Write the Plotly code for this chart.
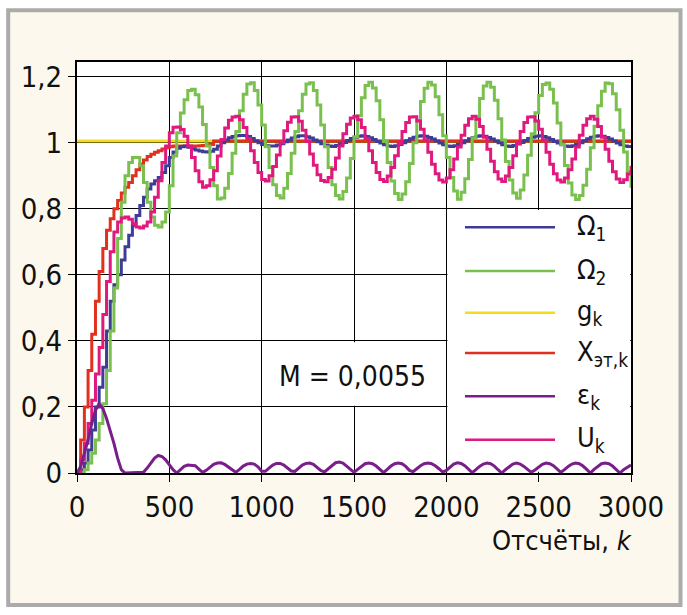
import plotly.graph_objects as go

# ---------------- data ----------------
k = list(range(0, 3001, 20))

omega1 = [0.0, 0.01, 0.03, 0.07, 0.13, 0.2, 0.26, 0.32, 0.43, 0.52,
          0.57, 0.6, 0.645, 0.685, 0.72, 0.75, 0.78, 0.81, 0.835, 0.86,
          0.875, 0.885, 0.895, 0.91, 0.93, 0.955, 0.972, 0.983, 0.988, 0.99,
          0.986, 0.982, 0.978, 0.975, 0.973, 0.972, 0.974, 0.98, 0.99, 1.0,
          1.008, 1.015, 1.019, 1.021, 1.022, 1.022, 1.019, 1.013, 1.006, 1.0,
          0.995, 0.991, 0.99, 0.99, 0.993, 0.997, 1.003, 1.008, 1.014, 1.018,
          1.021, 1.021, 1.018, 1.014, 1.008, 1.003, 0.997, 0.993, 0.99, 0.989,
          0.992, 0.996, 1.001, 1.007, 1.013, 1.017, 1.02, 1.021, 1.019, 1.015,
          1.01, 1.004, 0.999, 0.994, 0.99, 0.989, 0.991, 0.995, 1.0, 1.006,
          1.012, 1.017, 1.02, 1.021, 1.02, 1.016, 1.011, 1.005, 0.999, 0.994,
          0.99, 0.989, 0.991, 0.995, 1.0, 1.006, 1.012, 1.016, 1.02, 1.021,
          1.02, 1.016, 1.011, 1.005, 1.0, 0.994, 0.99, 0.989, 0.992, 0.996,
          1.001, 1.007, 1.013, 1.017, 1.02, 1.021, 1.019, 1.015, 1.01, 1.004,
          0.999, 0.994, 0.99, 0.989, 0.991, 0.995, 1.0, 1.006, 1.012, 1.017,
          1.02, 1.021, 1.02, 1.016, 1.011, 1.005, 0.999, 0.994, 0.99, 0.989,
          0.99]

omega2 = [0.0, 0.0, 0.01, 0.03, 0.06, 0.1, 0.15, 0.21, 0.31, 0.43,
          0.56, 0.71, 0.82, 0.9, 0.94, 0.955, 0.955, 0.93, 0.88, 0.82,
          0.775, 0.75, 0.745, 0.76, 0.79, 0.87, 0.96, 1.03, 1.09, 1.13,
          1.158, 1.162, 1.145, 1.108, 1.055, 0.99, 0.925, 0.87, 0.83, 0.833,
          0.862, 0.907, 0.968, 1.034, 1.097, 1.147, 1.178, 1.182, 1.158, 1.114,
          1.054, 0.988, 0.925, 0.873, 0.84, 0.833, 0.862, 0.907, 0.968, 1.034,
          1.097, 1.147, 1.178, 1.182, 1.158, 1.114, 1.054, 0.988, 0.925, 0.873,
          0.84, 0.83, 0.852, 0.893, 0.952, 1.018, 1.082, 1.136, 1.173, 1.183,
          1.166, 1.127, 1.07, 1.004, 0.94, 0.884, 0.846, 0.828, 0.845, 0.882,
          0.937, 1.0, 1.067, 1.125, 1.165, 1.183, 1.175, 1.139, 1.085, 1.021,
          0.955, 0.895, 0.854, 0.829, 0.85, 0.891, 0.949, 1.015, 1.079, 1.134,
          1.172, 1.183, 1.168, 1.129, 1.073, 1.008, 0.943, 0.887, 0.848, 0.832,
          0.857, 0.902, 0.962, 1.027, 1.091, 1.143, 1.176, 1.181, 1.162, 1.12,
          1.06, 0.995, 0.931, 0.878, 0.842, 0.828, 0.84, 0.871, 0.92, 0.985,
          1.05, 1.112, 1.156, 1.181, 1.179, 1.148, 1.1, 1.038, 0.972, 0.913,
          0.864]

u_k = [0.0, 0.04, 0.09, 0.15, 0.22, 0.3, 0.38, 0.48, 0.58, 0.67,
       0.73, 0.76, 0.772, 0.775, 0.768, 0.755, 0.745, 0.742, 0.748, 0.76,
       0.79, 0.835, 0.885, 0.94, 0.99, 1.03, 1.047, 1.048, 1.04, 1.02,
       0.99, 0.955, 0.915, 0.882, 0.865, 0.87, 0.888, 0.915, 0.96, 1.01,
       1.045, 1.068, 1.078, 1.08, 1.07, 1.046, 1.013, 0.976, 0.94, 0.91,
       0.889, 0.884, 0.9, 0.928, 0.963, 1.0, 1.036, 1.062, 1.078, 1.079,
       1.065, 1.038, 1.004, 0.966, 0.932, 0.903, 0.886, 0.882, 0.895, 0.92,
       0.954, 0.99, 1.027, 1.056, 1.075, 1.08, 1.07, 1.046, 1.013, 0.976,
       0.94, 0.91, 0.889, 0.883, 0.899, 0.925, 0.961, 0.998, 1.034, 1.061,
       1.078, 1.079, 1.066, 1.041, 1.008, 0.971, 0.935, 0.906, 0.887, 0.881,
       0.893, 0.918, 0.951, 0.987, 1.023, 1.053, 1.073, 1.08, 1.071, 1.049,
       1.017, 0.98, 0.944, 0.912, 0.89, 0.883, 0.899, 0.925, 0.961, 0.998,
       1.034, 1.061, 1.078, 1.079, 1.066, 1.041, 1.008, 0.971, 0.935, 0.906,
       0.887, 0.881, 0.893, 0.918, 0.951, 0.987, 1.023, 1.053, 1.073, 1.08,
       1.071, 1.049, 1.017, 0.98, 0.944, 0.912, 0.89, 0.88, 0.888, 0.905,
       0.93]

eps_k = [0.0, 0.02, 0.06, 0.1, 0.15, 0.19, 0.21, 0.195, 0.165, 0.13,
         0.09, 0.045, 0.01, 0.0, 0.0, 0.0, 0.0, 0.0, 0.002, 0.015,
         0.03, 0.045, 0.053, 0.05, 0.04, 0.025, 0.01, 0.0, 0.01, 0.02,
         0.024, 0.024, 0.022, 0.012, 0.002, 0.008, 0.018, 0.026, 0.03, 0.031,
         0.026, 0.018, 0.008, 0.002, 0.011, 0.021, 0.027, 0.029, 0.027, 0.019,
         0.005, 0.005, 0.015, 0.024, 0.029, 0.029, 0.024, 0.016, 0.006, 0.005,
         0.015, 0.024, 0.029, 0.03, 0.026, 0.018, 0.008, 0.003, 0.013, 0.024,
         0.031, 0.033, 0.03, 0.021, 0.01, 0.002, 0.011, 0.021, 0.028, 0.03,
         0.028, 0.021, 0.011, 0.001, 0.011, 0.021, 0.028, 0.03, 0.028, 0.02,
         0.008, 0.004, 0.013, 0.022, 0.028, 0.03, 0.028, 0.022, 0.013, 0.003,
         0.008, 0.019, 0.027, 0.031, 0.029, 0.022, 0.012, 0.001, 0.01, 0.02,
         0.027, 0.03, 0.028, 0.021, 0.01, 0.0, 0.01, 0.02, 0.027, 0.03,
         0.027, 0.02, 0.01, 0.002, 0.009, 0.019, 0.026, 0.03, 0.028, 0.022,
         0.012, 0.002, 0.01, 0.02, 0.027, 0.03, 0.028, 0.021, 0.011, 0.0,
         0.011, 0.021, 0.028, 0.03, 0.028, 0.021, 0.011, 0.0, 0.01, 0.018,
         0.024]

k_ref = list(range(0, 741, 20)) + [3000]
x_ref = [0.0, 0.1, 0.2, 0.31, 0.42, 0.52, 0.61, 0.68, 0.735, 0.77,
         0.8, 0.825, 0.848, 0.865, 0.88, 0.9, 0.918, 0.935, 0.948, 0.958,
         0.965, 0.971, 0.976, 0.981, 0.985, 0.988, 0.99, 0.99, 0.99, 0.99,
         0.99, 0.99, 0.99, 0.991, 0.992, 0.993, 0.995, 1.005, 1.005]

k_g = [0, 3000]
g_k = [1.005, 1.005]

x_ticks = [0, 500, 1000, 1500, 2000, 2500, 3000]
y_ticks = [0, 0.2, 0.4, 0.6, 0.8, 1.0, 1.2]
y_ticktext = ["0", "0,2", "0,4", "0,6", "0,8", "1", "1,2"]

legend_names = ["Ω<sub>1</sub>", "Ω<sub>2</sub>", "g<sub>k</sub>",
                "X<sub>эт,k</sub>", "ε<sub>k</sub>", "U<sub>k</sub>"]
note_text = "M = 0,0055"
x_title = "Отсчёты, <i>k</i>"

assert len(omega1) == len(k) == len(omega2) == len(u_k) == len(eps_k)
assert len(k_ref) == len(x_ref)

# ---------------- style ----------------
C_O1 = "#3f3c98"
C_O2 = "#79c04f"
C_G = "#f3dc1c"
C_X = "#e2301f"
C_E = "#7a1f8a"
C_U = "#e0197e"
colors = [C_O1, C_O2, C_G, C_X, C_E, C_U]

FONT = "Liberation Sans Narrow, DejaVu Sans Condensed, Roboto Condensed, Arial Narrow, Liberation Sans, sans-serif"
W, H = 687, 615
L, R, T, B = 77, 56, 62, 142
PW, PH = W - L - R, H - T - B
YMAX = 1.2445
XMAX = 3000


def px_x(px):
    return (px - L) / PW


def px_y(py):
    return (T + PH - py) / PH


def kx(px):
    return (px - L) / PW * XMAX


def vy(py):
    return (T + PH - py) / PH * YMAX


fig = go.Figure()
LW = 3
fig.add_trace(go.Scatter(x=k_g, y=g_k, mode="lines", line=dict(color=C_G, width=LW), hoverinfo="skip"))
fig.add_trace(go.Scatter(x=k_ref, y=x_ref, mode="lines", line=dict(color=C_X, width=LW, shape="hv")))
fig.add_trace(go.Scatter(x=k, y=omega1, mode="lines", line=dict(color=C_O1, width=LW, shape="hv")))
fig.add_trace(go.Scatter(x=k, y=omega2, mode="lines", line=dict(color=C_O2, width=LW, shape="hv")))
fig.add_trace(go.Scatter(x=k, y=u_k, mode="lines", line=dict(color=C_U, width=LW, shape="hv")))
fig.add_trace(go.Scatter(x=k, y=eps_k, mode="lines", line=dict(color=C_E, width=LW)))

shapes = [
    # cream panel with grey frame
    dict(type="rect", xref="paper", yref="paper", layer="below",
         x0=px_x(8.2), x1=px_x(680.5), y0=px_y(605), y1=px_y(10.3),
         fillcolor="#fcf8ed", line=dict(color="#ababab", width=4)),
    # white plotting area
    dict(type="rect", xref="paper", yref="paper", layer="below",
         x0=0, x1=1, y0=0, y1=1, fillcolor="white", line=dict(width=0)),
    # white box behind legend (hides grid)
    dict(type="rect", xref="x", yref="y", layer="between",
         x0=2006, x1=2996, y0=0.004, y1=0.796, fillcolor="white", line=dict(width=0)),
    # white box behind note
    dict(type="rect", xref="x", yref="y", layer="between",
         x0=1006, x1=1994, y0=0.204, y1=0.396, fillcolor="white", line=dict(width=0)),
]

rows_py = [227.3, 271, 312.7, 353, 396.3, 439.7]
annotations = []
for name, col, py in zip(legend_names, colors, rows_py):
    shapes.append(dict(type="line", xref="x", yref="y", layer="above",
                       x0=kx(465), x1=kx(555), y0=vy(py), y1=vy(py),
                       line=dict(color=col, width=2.5)))
    annotations.append(dict(x=kx(575), y=vy(py), xref="x", yref="y", text=name,
                            showarrow=False, xanchor="left", yanchor="middle",
                            font=dict(family=FONT, size=27, color="#111")))

annotations.append(dict(x=kx(352), y=vy(376), xref="x", yref="y", text=note_text,
                        showarrow=False, xanchor="center", yanchor="middle",
                        font=dict(family=FONT, size=28, color="#111")))
annotations.append(dict(x=px_x(634), y=px_y(540), xref="paper", yref="paper", text=x_title,
                        showarrow=False, xanchor="right", yanchor="middle",
                        font=dict(family=FONT, size=27, color="#111")))

axis_common = dict(showline=True, linewidth=2, linecolor="black", mirror=True,
                   showgrid=True, gridcolor="black", gridwidth=1, zeroline=False,
                   ticks="outside", ticklen=7, tickwidth=1, tickcolor="black",
                   tickfont=dict(family=FONT, size=29, color="#111"))

fig.update_layout(
    width=W, height=H, margin=dict(l=L, r=R, t=T, b=B, pad=0),
    paper_bgcolor="white", plot_bgcolor="rgba(0,0,0,0)",
    showlegend=False, shapes=shapes, annotations=annotations,
    xaxis=dict(range=[0, XMAX], tickvals=x_ticks, **axis_common),
    yaxis=dict(range=[0, YMAX], tickvals=y_ticks, ticktext=y_ticktext, **axis_common),
)

fig.write_html("out.html")
